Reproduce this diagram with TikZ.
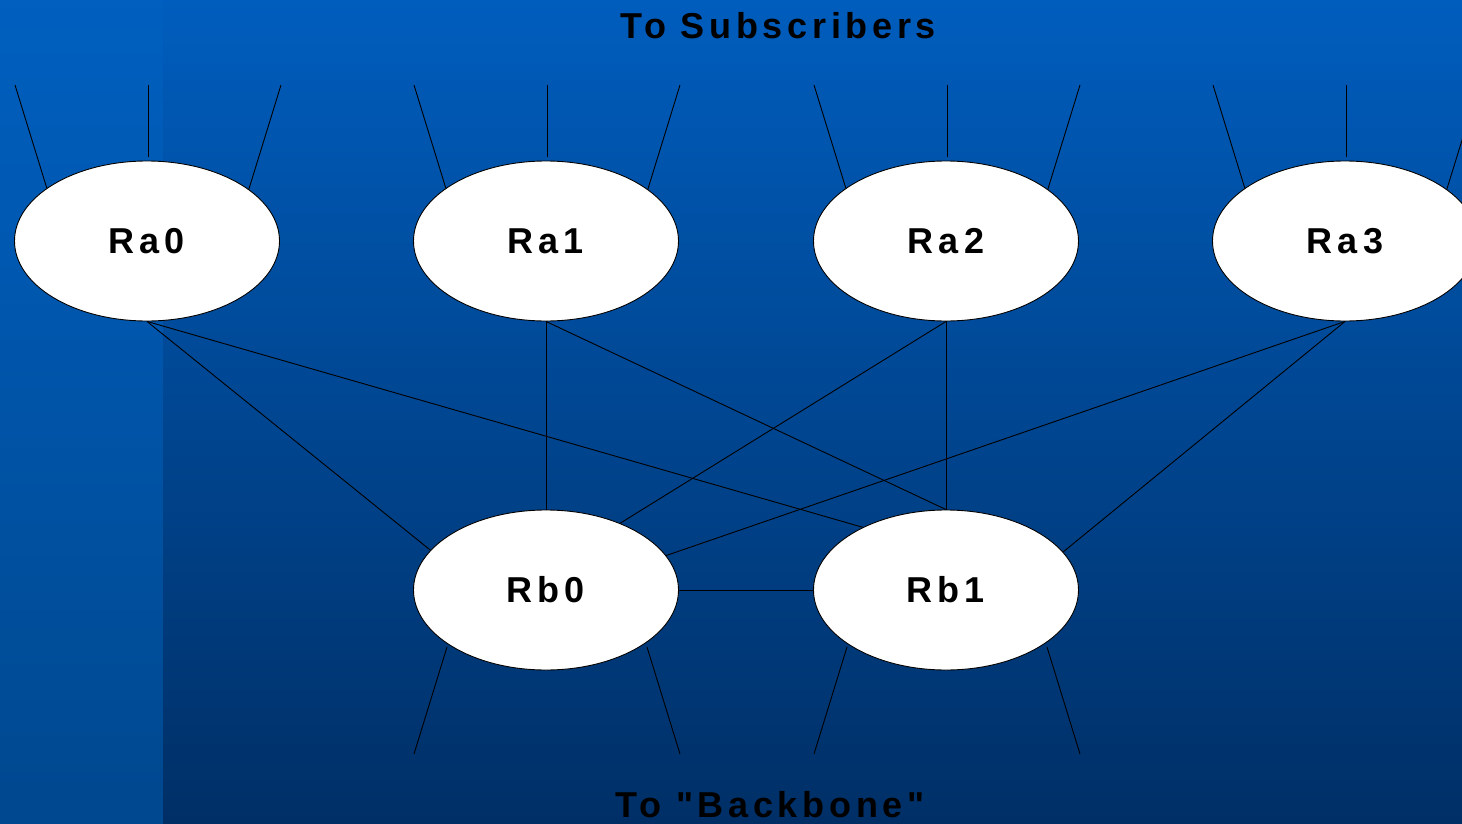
\documentclass[tikz,border=0pt]{standalone}
\usepackage{fontspec}
\setmainfont{Liberation Sans}
% plain family for the captions: no TeX quote mapping, so " stays straight
\newfontfamily\capfont{Liberation Sans}[LetterSpace=13]
\usetikzlibrary{shapes.geometric,calc}
\definecolor{bgtop}{RGB}{0,93,189}
\definecolor{bgbot}{RGB}{0,47,102}
\definecolor{striptop}{RGB}{0,95,191}
\definecolor{stripbot}{RGB}{0,72,143}
\pgfdeclarelayer{backdrop}
\pgfdeclarelayer{wires}
\pgfsetlayers{backdrop,wires,main}
\begin{document}
\begin{tikzpicture}[x=1pt,y=-1pt,
  router/.style={ellipse,draw=black,line width=0.9pt,fill=white,
    minimum width=265pt,minimum height=160pt,inner sep=0pt,
    font=\fontsize{36}{40}\selectfont\bfseries\addfontfeatures{LetterSpace=14}},
  link/.style={black,line width=0.9pt},
  caption/.style={inner sep=0pt,anchor=base,
    font=\capfont\fontsize{36}{40}\selectfont\bfseries}]
\useasboundingbox (0,0) rectangle (1462,824);
\clip (0,0) rectangle (1462,824);

% background: two vertical gradients
\begin{pgfonlayer}{backdrop}
  \shade[top color=striptop,bottom color=stripbot] (0,0) rectangle (163,824);
  \shade[top color=bgtop,bottom color=bgbot] (163,0) rectangle (1462,824);
\end{pgfonlayer}

% routers
\node[router] (Ra0) at (147,241) {Ra0};
\node[router] (Ra1) at (546,241) {Ra1};
\node[router] (Ra2) at (946,241) {Ra2};
\node[router] (Ra3) at (1345,241) {Ra3};
\node[router] (Rb0) at (546,590) {Rb0};
\node[router] (Rb1) at (946,590) {Rb1};

% captions
\node[caption] (subs) at (778,39) {To Subscribers};
\node[caption] (bone) at (770,817) {To "Backbone"};

\begin{pgfonlayer}{wires}
  % subscriber lines above the access routers
  \foreach \n/\x in {Ra0/147,Ra1/546,Ra2/946,Ra3/1345}{
    \coordinate (\n-l) at (\x-132,85);
    \coordinate (\n-m) at (\x+1,85);
    \coordinate (\n-r) at (\x+134,85);
    \draw[link] (\n-l) -- ($(\n)+(-99,-49)$);
    \draw[link] (\n-m) -- ($(\n.north)+(1,-4)$);
    \draw[link] (\n-r) -- ($(\n)+(101,-49)$);
  }
  % backbone lines below the core routers
  \foreach \n/\x in {Rb0/546,Rb1/946}{
    \coordinate (\n-l) at (\x-132,754);
    \coordinate (\n-r) at (\x+134,754);
    \draw[link] (\n-l) -- ($(\n)+(-99,57)$);
    \draw[link] (\n-r) -- ($(\n)+(101,57)$);
  }
  % access to core mesh
  \draw[link] (Ra0.south) -- (Rb0.161);
  \draw[link] (Ra0.south) -- (Rb1.143);
  \draw[link] (Ra1.south) -- (Rb0.north);
  \draw[link] (Ra1.south) -- (Rb1.north);
  \draw[link] (Ra2.south) -- (Rb0.42.6);
  \draw[link] (Ra2.south) -- (Rb1.north);
  \draw[link] (Ra3.south) -- (Rb0.16.6);
  \draw[link] (Ra3.south) -- (Rb1.18.6);
  \draw[link] (Rb0) -- (Rb1);
\end{pgfonlayer}
\end{tikzpicture}
\end{document}
